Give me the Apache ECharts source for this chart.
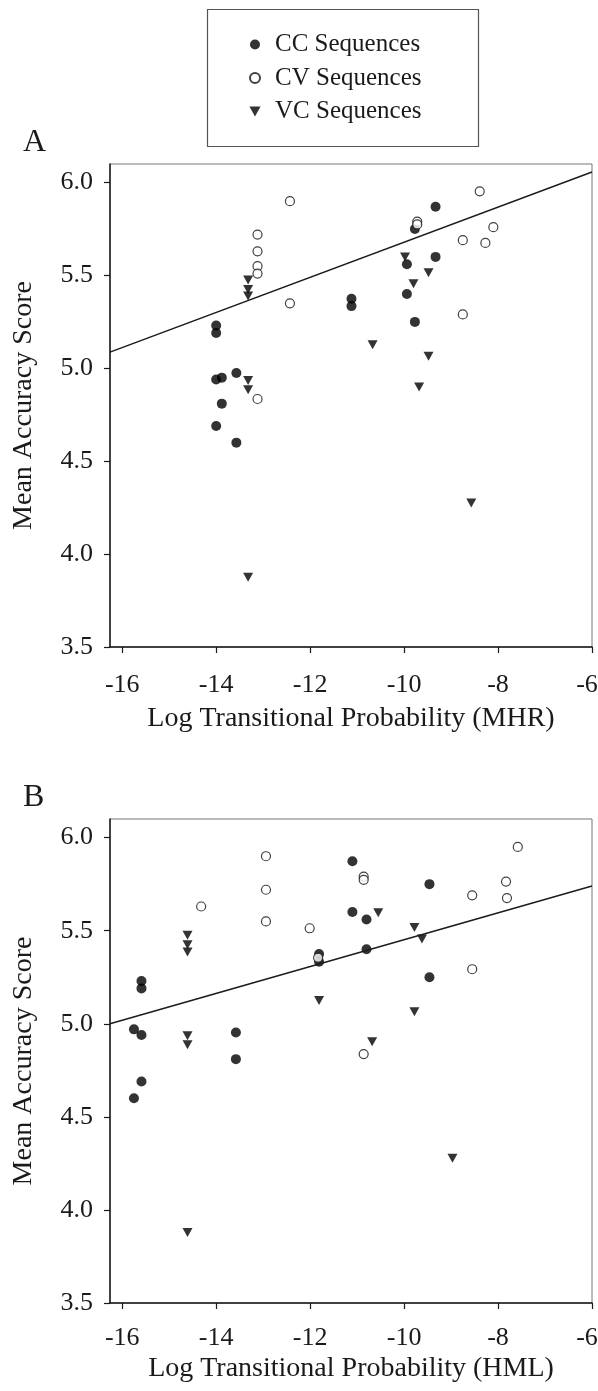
<!DOCTYPE html>
<html>
<head>
<meta charset="utf-8">
<script src="https://cdn.jsdelivr.net/npm/echarts@6/dist/echarts.min.js"></script>
<style>
  html, body { margin: 0; padding: 0; background: #fff; }
  #chart { width: 598px; height: 1391px; }
</style>
</head>
<body>
<div id="chart"></div>
<script>
// panel A: x = log transitional probability (MHR), y = mean accuracy score
var ccA = [[-14.0, 5.23], [-14.0, 5.19], [-14.0, 4.94], [-13.88, 4.95], [-13.57, 4.975], [-13.88, 4.81],
    [-14.0, 4.69], [-13.57, 4.60], [-9.33, 5.87], [-9.77, 5.75], [-9.33, 5.60], [-9.94, 5.56],
    [-9.94, 5.40], [-11.12, 5.375], [-11.12, 5.335], [-9.77, 5.25]];
var cvA = [[-12.43, 5.90], [-13.12, 5.72], [-13.12, 5.63], [-13.12, 5.55], [-13.12, 5.51], [-12.43, 5.35],
    [-13.12, 4.835], [-8.39, 5.953], [-9.72, 5.79], [-9.72, 5.775], [-8.10, 5.76], [-8.75, 5.69],
    [-8.27, 5.675], [-8.75, 5.29]];
var vcA = [[-13.32, 5.475], [-13.32, 5.425], [-13.32, 5.39], [-13.32, 4.935], [-13.32, 4.885], [-13.32, 3.875],
    [-9.98, 5.60], [-9.48, 5.515], [-9.80, 5.455], [-10.67, 5.127], [-9.48, 5.065], [-9.68, 4.90], [-8.57, 4.275]];
var fitA = [[-16.26, 5.087], [-6, 6.057]];

// panel B: x = log transitional probability (HML)
var ccB = [[-15.59, 5.23], [-15.59, 5.19], [-15.75, 4.97], [-15.59, 4.94], [-13.58, 4.953], [-13.58, 4.81],
    [-15.59, 4.69], [-15.75, 4.60], [-11.10, 5.873], [-9.46, 5.75], [-11.10, 5.60], [-10.80, 5.56],
    [-10.80, 5.40], [-11.81, 5.375], [-11.81, 5.333], [-9.46, 5.25]];
var cvB = [[-12.94, 5.90], [-12.94, 5.72], [-12.94, 5.55], [-14.32, 5.63], [-7.58, 5.95], [-10.86, 5.79],
    [-10.86, 5.773], [-7.83, 5.764], [-8.55, 5.69], [-7.81, 5.675], [-12.01, 5.513], [-11.83, 5.355],
    [-8.55, 5.293], [-10.86, 4.837]];
var vcB = [[-14.61, 5.476], [-14.61, 5.425], [-14.61, 5.386], [-14.61, 4.935], [-14.61, 4.887], [-14.61, 3.879],
    [-10.55, 5.597], [-9.78, 5.517], [-9.62, 5.455], [-11.81, 5.125], [-9.78, 5.064], [-10.68, 4.904], [-8.97, 4.278]];
var fitB = [[-16.26, 5.0], [-6, 5.74]];

var xTicks = [-16, -14, -12, -10, -8, -6];
var yTicks = [3.5, 4.0, 4.5, 5.0, 5.5, 6.0];
var seriesNames = ['CC Sequences', 'CV Sequences', 'VC Sequences'];

var font = 'Liberation Serif, Times New Roman, serif';
var ink = '#1a1a1a';
var downTri = 'path://M0,0L10,0L5,9Z';

function xAxisFor(idx, title, labelMargin, gap) {
    return {
        gridIndex: idx,
        type: 'value',
        min: -16.26,
        max: -6,
        name: title,
        nameLocation: 'middle',
        nameGap: gap,
        nameTextStyle: { fontFamily: font, fontSize: 28, color: ink },
        axisLine: { show: true, onZero: false, lineStyle: { color: ink, width: 1.5 } },
        axisTick: { show: true, length: 6, customValues: xTicks, lineStyle: { color: ink, width: 1.2 } },
        axisLabel: {
            customValues: xTicks, margin: labelMargin, fontFamily: font, fontSize: 26, color: ink,
            // last label sits at the page edge, nudge it inwards
            formatter: function (v) { return v === -6 ? '{e|' + v + '}' : String(v); },
            rich: { e: { fontFamily: font, fontSize: 26, color: ink, padding: [0, 10, 0, 0] } }
        },
        splitLine: { show: false }
    };
}

function yAxisFor(idx) {
    return {
        gridIndex: idx,
        type: 'value',
        min: 3.5,
        max: 6.1,
        interval: 0.5,
        name: 'Mean Accuracy Score',
        nameLocation: 'middle',
        nameGap: 72,
        nameTextStyle: { fontFamily: font, fontSize: 28, color: ink },
        axisLine: { show: true, onZero: false, lineStyle: { color: ink, width: 1.5 } },
        axisTick: { show: true, length: 6, customValues: yTicks, lineStyle: { color: ink, width: 1.2 } },
        axisLabel: {
            customValues: yTicks, margin: 17, fontFamily: font, fontSize: 26, color: ink,
            formatter: function (v) { return v.toFixed(1); }
        },
        splitLine: { show: false }
    };
}

function panelSeries(idx, cc, cv, vc, fit) {
    return [{
        name: seriesNames[0], type: 'scatter', xAxisIndex: idx, yAxisIndex: idx,
        symbol: 'circle', symbolSize: 10,
        itemStyle: { color: '#000' },
        data: cc
    }, {
        name: seriesNames[1], type: 'scatter', xAxisIndex: idx, yAxisIndex: idx,
        symbol: 'circle', symbolSize: 9,
        itemStyle: { color: '#fff', borderColor: '#111', borderWidth: 1.2 },
        data: cv
    }, {
        name: seriesNames[2], type: 'scatter', xAxisIndex: idx, yAxisIndex: idx,
        symbol: downTri, symbolSize: [10, 9],
        itemStyle: { color: '#000' },
        data: vc
    }, {
        name: 'fit', type: 'line', xAxisIndex: idx, yAxisIndex: idx,
        showSymbol: false, symbol: 'none', silent: true,
        lineStyle: { color: ink, width: 1.4 },
        data: fit
    }];
}

var myChart = echarts.init(document.getElementById('chart'), null, { renderer: 'canvas' });
var option = {
    backgroundColor: '#fff',
    animation: false,
    textStyle: { fontFamily: font },
    title: [
        { text: 'A', left: 18, top: 122, textStyle: { fontFamily: font, fontSize: 32, fontWeight: 'normal', color: ink } },
        { text: 'B', left: 18, top: 777, textStyle: { fontFamily: font, fontSize: 32, fontWeight: 'normal', color: ink } }
    ],
    legend: {
        data: seriesNames,
        orient: 'vertical',
        left: 249,
        top: 32,
        padding: 0,
        itemWidth: 30,
        itemHeight: 10,
        itemGap: 8.5,
        textStyle: { fontFamily: font, fontSize: 25, color: ink }
    },
    graphic: [{
        type: 'rect',
        shape: { x: 207.5, y: 9.5, width: 271, height: 137 },
        style: { fill: 'none', stroke: '#555', lineWidth: 1.2 }
    }],
    grid: [
        { left: 110, top: 164, width: 482, height: 483, show: true, borderColor: '#777', borderWidth: 1,
          containLabel: false, outerBoundsMode: 'none' },
        { left: 110, top: 819, width: 482, height: 484, show: true, borderColor: '#777', borderWidth: 1,
          containLabel: false, outerBoundsMode: 'none' }
    ],
    xAxis: [xAxisFor(0, 'Log Transitional Probability (MHR)', 25, 58),
            xAxisFor(1, 'Log Transitional Probability (HML)', 22, 52)],
    yAxis: [yAxisFor(0), yAxisFor(1)],
    series: panelSeries(0, ccA, cvA, vcA, fitA).concat(panelSeries(1, ccB, cvB, vcB, fitB))
};
myChart.setOption(option);
</script>
</body>
</html>
